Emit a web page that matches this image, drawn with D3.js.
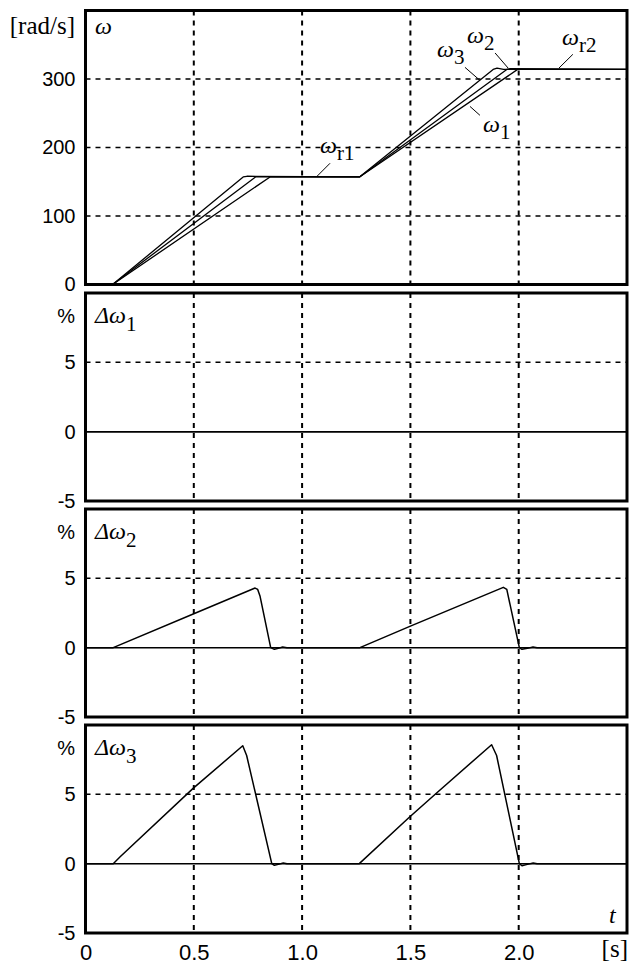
<!DOCTYPE html>
<html>
<head>
<meta charset="utf-8">
<script src="https://d3js.org/d3.v7.min.js"></script>
<style>
  body { margin: 0; background: #fff; }
</style>
</head>
<body>
<div id="chart"></div>
<script>
// Speed response of three drives (ω1, ω2, ω3) and their speed errors Δω in %

// time axis
const tTicks = [0, 0.5, 1.0, 1.5, 2.0];
const tLabels = ["0", "0.5", "1.0", "1.5", "2.0"];
const omegaTicks = [0, 100, 200, 300];
const errTicks = [-5, 0, 5];

// speeds [rad/s] (breakpoints)
const tW1 = [0, 0.125, 0.852, 1.265, 1.995, 2.5];
const w1  = [0, 0, 157, 157, 314, 314];
const tW2 = [0, 0.125, 0.785, 0.80, 1.265, 1.945, 1.96, 2.5];
const w2  = [0, 0, 157, 157, 157, 314, 315, 314];
const tW3 = [0, 0.125, 0.728, 0.745, 1.265, 1.882, 1.90, 1.93, 2.5];
const w3  = [0, 0, 157, 158, 157, 314, 316, 314, 314];

// speed errors [%]
const tErr1 = [0, 2.5];
const err1  = [0, 0];
const tErr2 = [0, 0.128, 0.5, 0.783, 0.795, 0.806, 0.855, 0.872, 0.89, 0.91, 0.93,
               1.267, 1.5, 1.929, 1.945, 2.003, 2.015, 2.04, 2.066, 2.085, 2.5];
const err2  = [0, 0, 2.45, 4.3, 4.2, 3.7, 0, -0.12, -0.05, 0.05, 0,
               0, 1.55, 4.35, 4.2, 0, -0.12, -0.05, 0.05, 0, 0];
const tErr3 = [0, 0.128, 0.16, 0.498, 0.726, 0.744, 0.86, 0.872, 0.89, 0.913, 0.93,
               1.264, 1.495, 1.621, 1.875, 1.898, 2.003, 2.015, 2.04, 2.067, 2.085, 2.5];
const err3  = [0, 0, 0.5, 5.45, 8.5, 7.8, 0, -0.12, -0.05, 0.05, 0,
               0, 3.35, 5.1, 8.58, 7.8, 0, -0.15, -0.05, 0.05, 0, 0];

// curve labels in the top panel: [t, ω] of text, leader from/to
const omegaNotes = [
  { main: "ω", sub: "r1", at: [1.083, 192], lead: [[1.129, 177], [1.069, 158]] },
  { main: "ω", sub: "r2", at: [2.2, 349],   lead: [[2.25, 336], [2.186, 316]] },
  { main: "ω", sub: "3",  at: [1.623, 332], lead: [[1.752, 317], [1.821, 298]] },
  { main: "ω", sub: "2",  at: [1.761, 353], lead: [[1.891, 338], [1.951, 316]] },
  { main: "ω", sub: "1",  at: [1.835, 222], lead: [[1.775, 260], [1.821, 247]] }
];

const width = 629, height = 966;
const left = 85.5, right = 627;
const serif = "'Liberation Serif', 'Times New Roman', serif";
const sans = "'Liberation Sans', Arial, sans-serif";

const svg = d3.select("#chart").append("svg")
  .attr("width", width)
  .attr("height", height);

const x = d3.scaleLinear().domain([0, 2.5]).range([left, right]);

const panels = [
  { top: 10.5, bottom: 284.5, domain: [0, 400], ticks: omegaTicks, unit: "[rad/s]",
    series: [[tW1, w1], [tW2, w2], [tW3, w3]], width: 1.3, title: "ω", sub: "" },
  { top: 293, bottom: 501, domain: [-5, 10], ticks: errTicks, unit: "%",
    series: [[tErr1, err1]], width: 1.5, title: "Δω", sub: "1" },
  { top: 509, bottom: 717, domain: [-5, 10], ticks: errTicks, unit: "%",
    series: [[tErr2, err2]], width: 1.5, title: "Δω", sub: "2" },
  { top: 725, bottom: 933, domain: [-5, 10], ticks: errTicks, unit: "%",
    series: [[tErr3, err3]], width: 1.5, title: "Δω", sub: "3" }
];

function subLabel(g, px, py, main, sub, size, subSize, dy) {
  const txt = g.append("text")
    .attr("x", px).attr("y", py)
    .style("font-family", serif)
    .style("font-size", size + "px");
  txt.append("tspan").style("font-style", "italic").text(main);
  if (sub) {
    txt.append("tspan").attr("dy", dy).style("font-size", subSize + "px").text(sub);
  }
}

panels.forEach((p, i) => {
  const y = d3.scaleLinear().domain(p.domain).range([p.bottom, p.top]);
  const g = svg.append("g");

  // vertical grid
  g.selectAll(".vgrid")
    .data(tTicks.slice(1))
    .join("line")
    .attr("x1", d => x(d)).attr("x2", d => x(d))
    .attr("y1", p.top).attr("y2", p.bottom)
    .attr("stroke", "#000")
    .attr("stroke-width", 2)
    .attr("stroke-dasharray", "5,5");

  // horizontal grid
  g.selectAll(".hgrid")
    .data(p.ticks.filter(d => d > p.domain[0] && d !== 0))
    .join("line")
    .attr("x1", left).attr("x2", right)
    .attr("y1", d => y(d)).attr("y2", d => y(d))
    .attr("stroke", "#000")
    .attr("stroke-width", 1.5)
    .attr("stroke-dasharray", "5,5");

  // zero line for error panels
  if (i > 0) {
    g.append("line")
      .attr("x1", left).attr("x2", right)
      .attr("y1", y(0)).attr("y2", y(0))
      .attr("stroke", "#000")
      .attr("stroke-width", 1.5);
  }

  // curves
  const line = d3.line().x(d => x(d[0])).y(d => y(d[1]));
  p.series.forEach(([ts, vs]) => {
    g.append("path")
      .datum(ts.map((t, k) => [t, vs[k]]))
      .attr("d", line)
      .attr("fill", "none")
      .attr("stroke", "#000")
      .attr("stroke-width", p.width)
      .attr("stroke-linejoin", "round");
  });

  // frame
  g.append("rect")
    .attr("x", left).attr("y", p.top)
    .attr("width", right - left).attr("height", p.bottom - p.top)
    .attr("fill", "none")
    .attr("stroke", "#000")
    .attr("stroke-width", 3);

  // y axis labels (plain hyphen for negatives, as in the original)
  const ax = g.append("g")
    .attr("transform", `translate(${left},0)`)
    .call(d3.axisLeft(y).tickValues(p.ticks).tickFormat(d => String(d))
      .tickSize(0).tickPadding(10));
  ax.select(".domain").remove();
  ax.selectAll("text")
    .style("font-family", sans)
    .style("font-size", "20px")
    .attr("fill", "#000");

  // unit
  if (i === 0) {
    g.append("text")
      .attr("x", 75).attr("y", p.top + 23.5)
      .attr("text-anchor", "end")
      .style("font-family", serif)
      .style("font-size", "25px")
      .text(p.unit);
  } else {
    g.append("text")
      .attr("x", 75).attr("y", p.top + 30)
      .attr("text-anchor", "end")
      .style("font-family", sans)
      .style("font-size", "20px")
      .text(p.unit);
  }

  // panel title
  subLabel(g, 95, p.top + (i === 0 ? 23 : 30), p.title, p.sub, 24, 21, 8);

  // curve notes
  if (i === 0) {
    omegaNotes.forEach(n => {
      g.append("line")
        .attr("x1", x(n.lead[0][0])).attr("y1", y(n.lead[0][1]))
        .attr("x2", x(n.lead[1][0])).attr("y2", y(n.lead[1][1]))
        .attr("stroke", "#000")
        .attr("stroke-width", 1);
      subLabel(g, x(n.at[0]), y(n.at[1]), n.main, n.sub, 24, 21, 7);
    });
  }

  // bottom time axis
  if (i === panels.length - 1) {
    const bx = svg.append("g")
      .attr("transform", `translate(0,${p.bottom})`)
      .call(d3.axisBottom(x).tickValues(tTicks).tickFormat((d, k) => tLabels[k])
        .tickSize(0).tickPadding(11));
    bx.select(".domain").remove();
    bx.selectAll("text")
      .style("font-family", sans)
      .style("font-size", "22px")
      .attr("fill", "#000");

    svg.append("text")
      .attr("x", 609).attr("y", p.bottom - 10)
      .style("font-family", serif)
      .style("font-style", "italic")
      .style("font-size", "24px")
      .text("t");

    svg.append("text")
      .attr("x", 628).attr("y", 957)
      .attr("text-anchor", "end")
      .style("font-family", serif)
      .style("font-size", "25px")
      .text("[s]");
  }
});
</script>
</body>
</html>
